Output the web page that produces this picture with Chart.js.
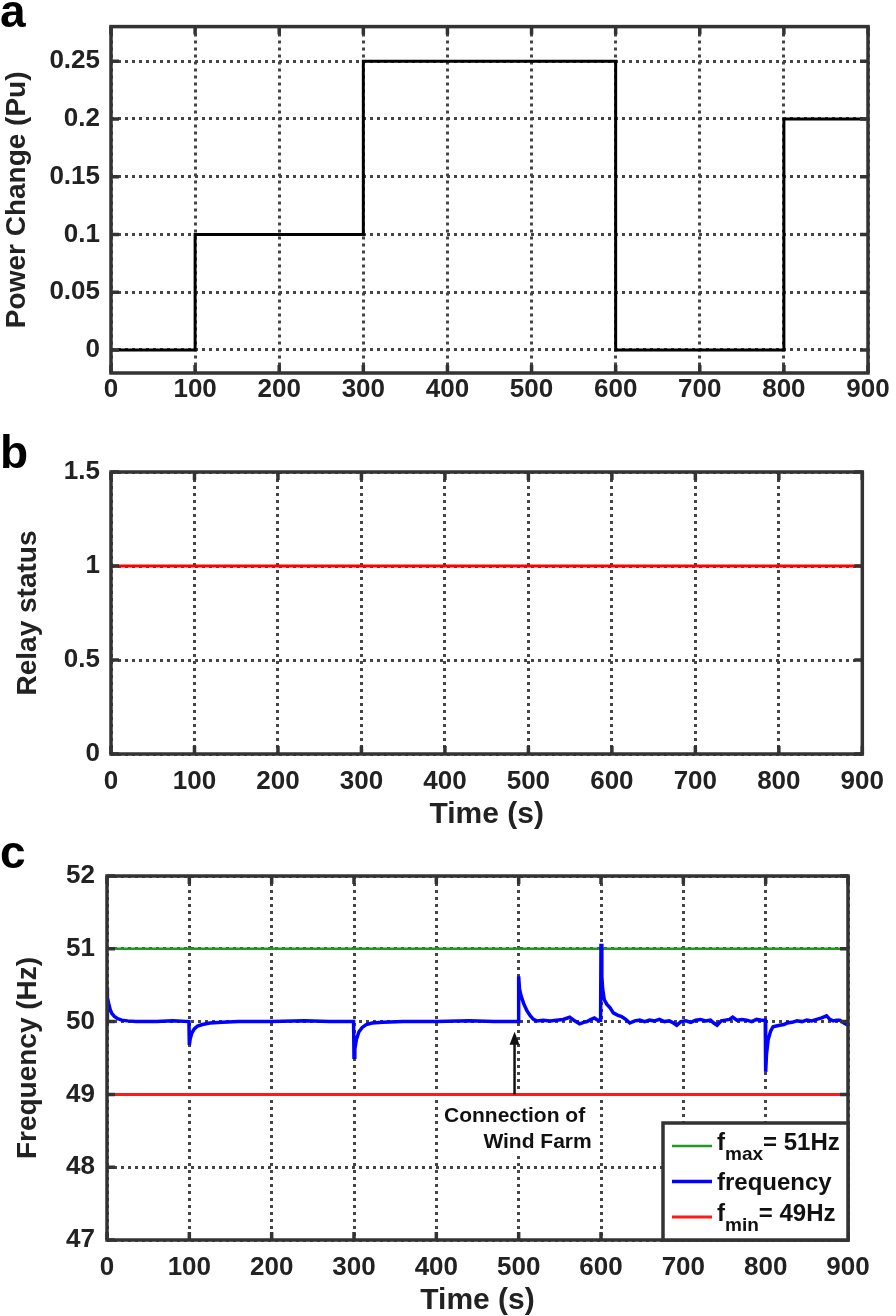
<!DOCTYPE html>
<html>
<head>
<meta charset="utf-8">
<script src="https://cdn.jsdelivr.net/npm/chart.js@4.4.0/dist/chart.umd.min.js"></script>
<style>
    body { margin: 0; background: #fff; }
    #page { position: relative; width: 896px; height: 1316px; overflow: hidden; font-family: "Liberation Sans", Arial, sans-serif; }
    .panel { position: absolute; left: 0; }
    .letter { position: absolute; left: 0; font-size: 46px; font-weight: bold; line-height: 1; color: #000; }
</style>
</head>
<body>
<div id="page">
    <canvas id="chartA" class="panel" style="top:0px" width="896" height="425"></canvas>
    <canvas id="chartB" class="panel" style="top:440px" width="896" height="400"></canvas>
    <canvas id="chartC" class="panel" style="top:840px" width="896" height="476"></canvas>
    <div class="letter" style="top:-12px">a</div>
    <div class="letter" style="top:429px">b</div>
    <div class="letter" style="top:829px">c</div>
</div>
<script>
// tick labels
var timeTicks = [0, 100, 200, 300, 400, 500, 600, 700, 800, 900]
var powerTicks = [0, 0.05, 0.1, 0.15, 0.2, 0.25]
var relayTicks = [0, 0.5, 1, 1.5]
var freqTicks = [47, 48, 49, 50, 51, 52]

// panel a - load step
var powerTime = [0, 100, 300, 600, 800, 900]
var powerValue = [0, 0.1, 0.25, 0, 0.2, 0.2]

// panel b - relay
var relayTime = [0, 900]
var relayValue = [1, 1]

// panel c - limits and measured frequency
var limitTime = [0, 900]
var fmaxValue = [51, 51]
var fminValue = [49, 49]

var freqTime = [0, 0, 1, 2, 4, 6, 9, 13, 18, 25, 35, 60, 80, 99.5,
    100, 101, 103, 106, 110, 116, 125, 140, 160, 200, 240, 270, 299.5,
    300, 301, 303, 306, 310, 315, 322, 335, 360, 400, 440, 470, 499.5,
    500, 501, 503, 506, 510, 514, 518, 522, 530, 538, 546, 554, 562, 568, 574, 579, 583, 588, 592, 596, 599.5,
    600, 601, 602, 604, 607, 611, 615, 620, 625, 630, 635, 641, 647, 653, 659, 665, 671, 677, 683, 688, 692, 697,
    703, 709, 715, 721, 727, 733, 737, 741, 746, 751, 756, 760, 765, 771, 777, 783, 789, 795, 799.5,
    800, 801, 803, 806, 809, 813, 817, 822, 826, 832, 838, 844, 850, 856, 862, 868, 874, 878, 882, 886, 890, 895, 900]
var freqValue = [50.00, 50.47, 50.33, 50.25, 50.16, 50.11, 50.07, 50.04, 50.02, 50.01, 50.00, 50.00, 50.01, 50.00,
    49.68, 49.76, 49.84, 49.90, 49.94, 49.96, 49.98, 49.99, 50.00, 50.00, 50.01, 50.00, 50.00,
    49.51, 49.62, 49.76, 49.86, 49.92, 49.96, 49.98, 49.99, 50.00, 50.00, 50.01, 50.00, 50.00,
    50.62, 50.45, 50.35, 50.25, 50.15, 50.08, 50.03, 50.01, 50.02, 50.01, 50.02, 50.03, 50.06, 50.01, 49.97, 49.99, 50.00, 50.03, 50.05, 50.02, 50.02,
    51.07, 50.62, 50.45, 50.30, 50.24, 50.19, 50.12, 50.09, 50.07, 50.03, 49.98, 50.01, 50.02, 50.00, 50.02, 50.01, 50.03, 50.00, 50.01, 49.98, 49.95, 50.00,
    50.01, 49.99, 50.02, 50.03, 50.01, 50.02, 49.98, 49.95, 50.01, 50.02, 50.03, 50.06, 50.02, 50.03, 50.02, 50.00, 50.03, 50.02, 50.02,
    49.31, 49.55, 49.75, 49.87, 49.93, 49.94, 49.95, 49.96, 49.98, 49.99, 50.01, 50.00, 50.02, 50.01, 50.03, 50.05, 50.08, 50.03, 50.01, 50.02, 50.02, 49.98, 49.95]

var legendMain = ['f', 'frequency', 'f']
var legendSub = ['max', '', 'min']
var legendTail = ['= 51Hz', '', '= 49Hz']

// annotation arrow (time, from Hz, to Hz)
var arrowTime = 495
var arrowFrom = 49
var arrowTo = 49.86

Chart.defaults.font.family = '"Liberation Sans", Arial, sans-serif'
Chart.defaults.font.size = 26
Chart.defaults.font.weight = 'bold'
Chart.defaults.color = '#222'

var gridColor = '#444'

function pts(xs, ys) {
    return xs.map(function (x, i) { return { x: x, y: ys[i] } })
}

// box around plot + inward ticks, like matlab axes
var matlabBox = {
    id: 'matlabBox',
    afterDatasetsDraw: function (chart) {
        var ctx = chart.ctx
        var a = chart.chartArea
        var xs = chart.scales.x
        var ys = chart.scales.y
        ctx.save()
        ctx.strokeStyle = '#333'
        ctx.lineWidth = 3.5
        ctx.beginPath()
        xs.ticks.forEach(function (t) {
            var px = xs.getPixelForValue(t.value)
            ctx.moveTo(px, a.bottom); ctx.lineTo(px, a.bottom - 8)
            ctx.moveTo(px, a.top); ctx.lineTo(px, a.top + 8)
        })
        ys.ticks.forEach(function (t) {
            var py = ys.getPixelForValue(t.value)
            ctx.moveTo(a.left, py); ctx.lineTo(a.left + 8, py)
            ctx.moveTo(a.right, py); ctx.lineTo(a.right - 8, py)
        })
        ctx.stroke()
        ctx.strokeRect(a.left, a.top, a.right - a.left, a.bottom - a.top)
        ctx.restore()
    }
}
Chart.register(matlabBox)

function makeOptions(p) {
    return {
        responsive: false,
        animation: false,
        events: [],
        layout: { padding: { left: 0, top: p.padTop, right: p.padRight, bottom: 0 } },
        plugins: { legend: { display: false }, tooltip: { enabled: false } },
        elements: { point: { radius: 0 }, line: { tension: 0 } },
        scales: {
            x: {
                type: 'linear', min: 0, max: 900,
                afterBuildTicks: function (s) { s.ticks = timeTicks.map(function (v) { return { value: v } }) },
                afterFit: function (s) { s.height = p.xHeight },
                grid: { color: gridColor, lineWidth: 3, drawTicks: false },
                border: { display: false, dash: [3, 4] },
                ticks: { padding: p.xPad, maxRotation: 0, autoSkip: false, callback: function (v) { return String(v) } },
                title: {
                    display: !!p.xTitle, text: p.xTitle || '', color: '#222',
                    font: { size: 30, weight: 'bold', lineHeight: 1 },
                    padding: { top: 0, bottom: p.xTitlePad || 0 }
                }
            },
            y: {
                type: 'linear', min: p.yMin, max: p.yMax,
                afterBuildTicks: function (s) { s.ticks = p.yTicks.map(function (v) { return { value: v } }) },
                afterFit: function (s) { s.width = p.yWidth },
                grid: { color: gridColor, lineWidth: 3, drawTicks: false },
                border: { display: false, dash: [3, 4] },
                ticks: { padding: p.yPad, autoSkip: false, callback: function (v) { return String(v) } },
                title: {
                    display: true, text: p.yTitle, color: '#222',
                    font: { size: 28, weight: 'bold', lineHeight: 1 },
                    padding: { top: p.yTitlePad, bottom: 0 }
                }
            }
        }
    }
}

// panel a
new Chart(document.getElementById('chartA'), {
    type: 'line',
    data: {
        datasets: [{
            label: 'Power Change',
            data: pts(powerTime, powerValue),
            stepped: 'before',
            borderColor: '#000',
            borderWidth: 3
        }]
    },
    options: makeOptions({
        padTop: 21, padRight: 28, xHeight: 52, xPad: 1,
        yMin: -0.02, yMax: 0.28, yTicks: powerTicks, yWidth: 111, yPad: 11,
        yTitle: 'Power Change (Pu)', yTitlePad: 3
    })
})

// panel b
new Chart(document.getElementById('chartB'), {
    type: 'line',
    data: {
        datasets: [{
            label: 'Relay status',
            data: pts(relayTime, relayValue),
            borderColor: '#ff0000',
            borderWidth: 3
        }]
    },
    options: makeOptions({
        padTop: 32, padRight: 25, xHeight: 86, xPad: 12, xTitle: 'Time (s)', xTitlePad: 10,
        yMin: 0, yMax: 1.5, yTicks: relayTicks, yWidth: 111, yPad: 11,
        yTitle: 'Relay status', yTitlePad: 14
    })
})

// panel c extras: annotation + legend with subscripts
var windNote = {
    id: 'windNote',
    afterDatasetsDraw: function (chart) {
        var ctx = chart.ctx
        var ax = chart.scales.x.getPixelForValue(arrowTime)
        var yBase = chart.scales.y.getPixelForValue(arrowFrom)
        var yTip = chart.scales.y.getPixelForValue(arrowTo)
        ctx.save()
        ctx.fillStyle = '#fff'
        ctx.fillRect(ax - 76, yBase + 4, 157, 56)
        ctx.strokeStyle = '#111'
        ctx.fillStyle = '#111'
        ctx.lineWidth = 2.5
        ctx.beginPath()
        ctx.moveTo(ax, yBase)
        ctx.lineTo(ax, yTip + 10)
        ctx.stroke()
        ctx.beginPath()
        ctx.moveTo(ax, yTip)
        ctx.lineTo(ax - 5, yTip + 13)
        ctx.lineTo(ax + 5, yTip + 13)
        ctx.closePath()
        ctx.fill()
        ctx.font = 'bold 21px "Liberation Sans", Arial, sans-serif'
        ctx.textAlign = 'center'
        ctx.textBaseline = 'alphabetic'
        ctx.fillText('Connection of', ax, yBase + 28)
        ctx.fillText('Wind Farm', ax + 23, yBase + 54)
        ctx.restore()
    }
}

var freqLegend = {
    id: 'freqLegend',
    afterDraw: function (chart) {
        var ctx = chart.ctx
        var a = chart.chartArea
        var w = 185, h = 117
        var x0 = a.right - w, y0 = a.bottom - h
        ctx.save()
        ctx.fillStyle = '#fff'
        ctx.fillRect(x0, y0, w, h)
        ctx.strokeStyle = '#333'
        ctx.lineWidth = 3.5
        ctx.strokeRect(x0, y0, w, h)
        chart.data.datasets.forEach(function (ds, i) {
            var ry = y0 + 23 + i * 35.5
            ctx.strokeStyle = ds.borderColor
            ctx.lineWidth = ds.borderWidth
            ctx.beginPath()
            ctx.moveTo(x0 + 9, ry)
            ctx.lineTo(x0 + 49, ry)
            ctx.stroke()
            ctx.fillStyle = '#111'
            ctx.textAlign = 'left'
            ctx.textBaseline = 'alphabetic'
            var tx = x0 + 54
            if (legendSub[i]) {
                ctx.font = 'bold 24px "Liberation Sans", Arial, sans-serif'
                ctx.fillText(legendMain[i], tx, ry + 4)
                tx += ctx.measureText(legendMain[i]).width
                ctx.font = 'bold 19px "Liberation Sans", Arial, sans-serif'
                ctx.fillText(legendSub[i], tx, ry + 14)
                tx += ctx.measureText(legendSub[i]).width
                ctx.font = 'bold 24px "Liberation Sans", Arial, sans-serif'
                ctx.fillText(legendTail[i], tx, ry + 4)
            } else {
                ctx.font = 'bold 24px "Liberation Sans", Arial, sans-serif'
                ctx.fillText(legendMain[i], tx, ry + 8)
            }
        })
        ctx.restore()
    }
}

new Chart(document.getElementById('chartC'), {
    type: 'line',
    data: {
        datasets: [{
            label: 'fmax = 51Hz',
            data: pts(limitTime, fmaxValue),
            borderColor: '#229922',
            borderWidth: 2.5,
            order: 1
        }, {
            label: 'frequency',
            data: pts(freqTime, freqValue),
            borderColor: '#0000ff',
            borderWidth: 3.5,
            order: 0
        }, {
            label: 'fmin = 49Hz',
            data: pts(limitTime, fminValue),
            borderColor: '#ff1a1a',
            borderWidth: 3,
            order: 1
        }]
    },
    options: makeOptions({
        padTop: 36, padRight: 48, xHeight: 76, xPad: 12, xTitle: 'Time (s)', xTitlePad: 0,
        yMin: 47, yMax: 52, yTicks: freqTicks, yWidth: 107, yPad: 12,
        yTitle: 'Frequency (Hz)', yTitlePad: 14
    }),
    plugins: [windNote, freqLegend]
})
</script>
</body>
</html>
